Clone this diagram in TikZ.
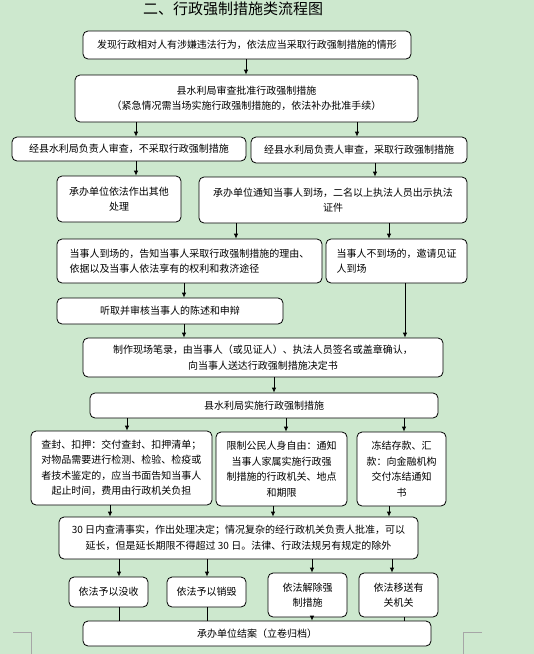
\documentclass[tikz,border=0pt]{standalone}
\usepackage{fontspec}
\setmainfont{Noto Sans CJK SC}
\usepackage{xcolor}
\usetikzlibrary{arrows.meta}
\definecolor{pagegreen}{RGB}{205,232,206}

\begin{document}
\begin{tikzpicture}[x=1pt,y=-1pt,
  box/.style={draw=black, line width=0.8pt, fill=white, rounded corners=5pt,
    align=center, inner sep=2pt, font=\fontsize{10}{15.5}\selectfont},
  arr/.style={-{Latex[length=5pt,width=4.5pt]}, line width=0.8pt},
  lnk/.style={line width=0.8pt}]
% page
\useasboundingbox (0,0) rectangle (534,654);
\fill[pagegreen] (0,0) rectangle (534,654);
% title
\node[font=\fontsize{15}{15}\selectfont] (title) at (233,8.5) {二、行政强制措施类流程图};
% steps
\node[box, minimum width=328pt, minimum height=28pt] (find) at (247,45) {发现行政相对人有涉嫌违法行为，依法应当采取行政强制措施的情形};
\node[box, minimum width=343pt, minimum height=47pt] (approve) at (246.5,98.5) {县水利局审查批准行政强制措施\\（紧急情况需当场实施行政强制措施的，依法补办批准手续）};
\node[box, minimum width=234pt, minimum height=24pt] (notake) at (129,149) {经县水利局负责人审查，不采取行政强制措施};
\node[box, minimum width=216pt, minimum height=26pt] (take) at (359,150) {经县水利局负责人审查，采取行政强制措施};
\node[box, minimum width=124pt, minimum height=46pt] (other) at (119,199) {承办单位依法作出其他\\处理};
\node[box, minimum width=268pt, minimum height=46pt] (notify) at (333,200) {承办单位通知当事人到场，二名以上执法人员出示执法\\证件};
\node[box, align=left, minimum width=265pt, minimum height=44pt] (present) at (189.5,261) {当事人到场的，告知当事人采取行政强制措施的理由、\\依据以及当事人依法享有的权利和救济途径};
\node[box, align=left, minimum width=141pt, minimum height=44pt] (absent) at (396.5,261) {当事人不到场的，邀请见证\\人到场};
\node[box, minimum width=226pt, minimum height=26pt] (hear) at (170,311) {听取并审核当事人的陈述和申辩};
\node[box, minimum width=360pt, minimum height=39pt] (record) at (263,357.5) {制作现场笔录，由当事人（或见证人）、执法人员签名或盖章确认，\\向当事人送达行政强制措施决定书};
\node[box, minimum width=348pt, minimum height=25pt] (enforce) at (264,405.5) {县水利局实施行政强制措施};
% three kinds of measures
\node[box, minimum width=181pt, minimum height=74pt] (seize) at (121.5,468) {查封、扣押：交付查封、扣押清单；\\对物品需要进行检测、检验、检疫或\\者技术鉴定的，应当书面告知当事人\\起止时间，费用由行政机关负担};
\node[box, minimum width=131pt, minimum height=74pt] (restrict) at (281.5,469) {限制公民人身自由：通知\\当事人家属实施行政强\\制措施的行政机关、地点\\和期限};
\node[box, minimum width=89pt, minimum height=74pt] (freeze) at (401.5,469) {冻结存款、汇\\款：向金融机构\\交付冻结通知\\书};
\node[box, minimum width=359pt, minimum height=42pt] (decide) at (238.5,538) {30 日内查清事实，作出处理决定；情况复杂的经行政机关负责人批准，可以\\延长，但是延长期限不得超过 30 日。法律、行政法规另有规定的除外};
% outcomes
\node[box, minimum width=79pt, minimum height=30pt] (confis) at (108.5,592) {依法予以没收};
\node[box, minimum width=79pt, minimum height=30pt] (destroy) at (206.5,592) {依法予以销毁};
\node[box, minimum width=79pt, minimum height=44pt] (release) at (307.5,595) {依法解除强\\制措施};
\node[box, minimum width=79pt, minimum height=44pt] (transfer) at (398.5,595) {依法移送有\\关机关};
\node[box, minimum width=348pt, minimum height=25pt] (close) at (257,633.5) {承办单位结案（立卷归档）};
% arrows (from/to/x)
\foreach \a/\b/\x in {find/approve/246, approve/notake/136, approve/take/357,
    notake/other/136, take/notify/375, notify/present/236, notify/absent/389,
    present/hear/184, hear/record/184, absent/record/405, record/enforce/274,
    enforce/seize/127, enforce/restrict/286, enforce/freeze/404,
    seize/decide/110, restrict/decide/273, freeze/decide/389,
    decide/confis/119, decide/destroy/207, decide/release/312, decide/transfer/392}
  \draw[arr] (\a.south -| \x,0) -- (\b.north -| \x,0);
% into the closing box
\foreach \a/\x in {confis/119, destroy/207, transfer/404}
  \draw[lnk] (\a.south -| \x,0) -- (close.north -| \x,0);
\draw[arr] (release.south -| 312,0) -- (close.north -| 312,0);
% page corner marks
\draw[gray!70] (13,632) -- (31,632) -- (31,654);
\draw[gray!70] (482,632) -- (463,632) -- (463,654);
\end{tikzpicture}
\end{document}
